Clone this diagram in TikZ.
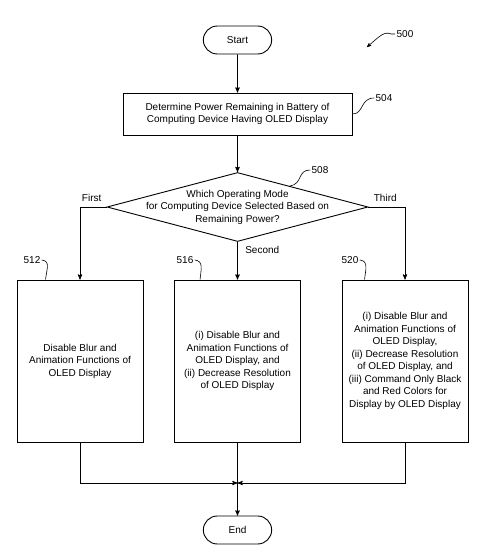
\documentclass[tikz,border=0pt]{standalone}
\usepackage{fontspec}
\setmainfont{Liberation Sans}
\usetikzlibrary{arrows,calc,positioning,shapes.geometric,shapes.misc}

\begin{document}
\begin{tikzpicture}[->,>=stealth',x=1pt,y=-1pt,line width=0.9pt,
    font=\fontsize{10}{12.5}\selectfont,
    term/.style={draw,rounded rectangle,minimum width=75pt,minimum height=28pt},
    block/.style={draw,rectangle,align=center,inner sep=2pt},
    mode box/.style={block,minimum width=126pt,minimum height=162pt},
    decide/.style={draw,diamond,minimum width=261pt,minimum height=69pt,inner sep=0pt},
    refnum/.style={inner sep=1pt},
    squig/.style={-,line width=0.6pt}]

  \useasboundingbox (0,0) rectangle (490,560);

  \node[term] (start) at (237.5,40) {Start};
  \node[block,minimum width=229pt,minimum height=42pt] (det) at (237.5,114)
    {Determine Power Remaining in Battery of\\Computing Device Having OLED Display};
  \node[decide] (mode) at (237.5,207) {};
  \node[align=center] (mode_t) at (mode) {Which Operating Mode\\for Computing Device Selected Based on\\Remaining Power?};

  \node[mode box] (m_1) at (80,361) {Disable Blur and\\Animation Functions of\\OLED Display};
  \node[mode box] (m_2) at (237.5,361) {(i) Disable Blur and\\Animation Functions of\\OLED Display, and\\(ii) Decrease Resolution\\of OLED Display};
  \node[mode box] (m_3) at (405,361) {(i) Disable Blur and\\Animation Functions of\\OLED Display,\\(ii) Decrease Resolution\\of OLED Display, and\\(iii) Command Only Black\\and Red Colors for\\Display by OLED Display};
  \node[term] (stop) at (237.5,530) {End};

  \coordinate (join) at (237.5,483);

  \path (start) edge (det)
        (det) edge (mode);
  \draw (mode.west) -| node[pos=0.28,above=2pt] {First} (m_1.north);
  \draw (mode.east) -| node[pos=0.23,above=2pt] {Third} (m_3.north);
  \draw (mode.south) -- node[pos=0.2,right=4pt] {Second} (m_2.north);
  \draw (m_1.south) |- (join);
  \draw (m_3.south) |- (join);
  \draw (m_2.south) -- (stop.north);

  % reference numerals
  \node[refnum] (n_500) at (405,34) {500};
  \draw[->,line width=0.6pt] (n_500.west) -- ++(-4,0) .. controls (384,31) and (380,36) .. (367,47);
  \node[refnum] (n_504) at (384,98) {504};
  \draw[squig] (det.east) .. controls (364,114) and (360,98) .. (n_504.west);
  \node[refnum] (n_508) at (320,170) {508};
  \draw[squig] ($(mode.north)!0.4!(mode.east)$) .. controls (303,184) and (297,170) .. (n_508.west);
  \node[refnum] (n_512) at (32,260) {512};
  \node[refnum] (n_516) at (185,260) {516};
  \node[refnum] (n_520) at (350,260) {520};
  \foreach \n/\b/\dx in {n_512/m_1/29,n_516/m_2/26,n_520/m_3/23}
    \draw[squig] (\n.east) .. controls +(9,1) and +(1,-10) .. ($(\b.north west)+(\dx,0)$);

\end{tikzpicture}
\end{document}
